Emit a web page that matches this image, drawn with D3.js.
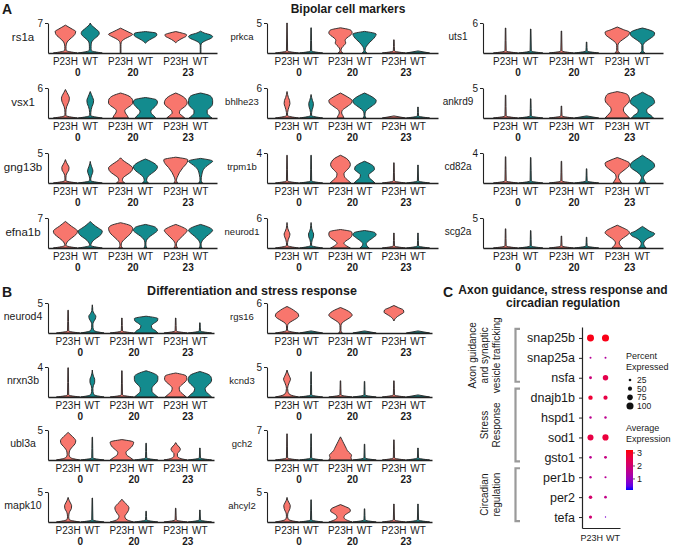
<!DOCTYPE html>
<html>
<head>
<meta charset="utf-8">
<script src="https://cdn.jsdelivr.net/npm/d3@7"></script>
<style>
  body { margin: 0; background: #fff; }
  text { font-family: "Liberation Sans", Arial, sans-serif; fill: #1a1a1a; }
</style>
</head>
<body>
<svg id="fig" width="676" height="549"></svg>
<script>
// ---- data -------------------------------------------------------------
const groups = ["0", "20", "23"];
const conds = ["P23H", "WT"];

// violins per gene, order: P23H 0, WT 0, P23H 20, WT 20, P23H 23, WT 23
// a number  = mostly-zero cells: flat base at 0 plus a thin line up to that value (0 = base only)
// an array  = [low, high, relative widths from low to high, flat zero base?]
const genesA1 = ["rs1a", "vsx1", "gng13b", "efna1b"];
const ticksA1 = [7, 6, 5, 7];
const violinsA1 = [
  [[0.6, 6.5, [.06,.05,.05,.08,.15,.3,.5,.7,.82,.85,.6,.3,0], 1],
   [0.6, 7.0, [.08,.07,.07,.08,.12,.25,.45,.65,.75,.7,.5,.3,.1,0], 1],
   [0, 5.8, [.03,.03,.03,.03,.03,.05,.15,.4,.75,1,.7,.35,0]],
   [2.3, 5.0, [0,.15,.35,.6,.85,.95,.9,0]],
   [2.4, 5.0, [0,.15,.35,.6,.85,.9,.55,0]],
   [0, 5.1, [.03,.03,.03,.03,.03,.05,.2,.5,.85,1,.8,.3,0]]],
  [[0.5, 5.7, [.04,.04,.05,.1,.2,.3,.33,.25,.12,0], 1],
   [0.5, 5.3, [.04,.05,.08,.15,.25,.28,.2,.1,0], 1],
   [0, 5.0, [.65,.55,.4,.35,.55,.85,1,1,.9,.6,0]],
   [0, 4.1, [.85,.7,.5,.45,.6,.8,.95,1,.9,0]],
   [0, 5.0, [.75,.5,.3,.35,.6,.85,.95,.9,.75,.45,0]],
   [0, 5.0, [.95,.7,.55,.55,.75,.95,1,1,.95,.75,0]]],
  [[0.4, 3.9, [.04,.04,.06,.15,.28,.3,.2,.08,0], 1],
   [0.4, 3.6, [.04,.05,.1,.18,.22,.18,.1,.04,0], 1],
   [0, 4.2, [.35,.15,.2,.45,.75,.95,1,.8,.5,.2,0]],
   [0, 4.0, [.25,.1,.15,.35,.65,.9,1,.85,.5,0]],
   [0, 4.3, [.15,.06,.1,.2,.3,.45,.6,.8,.95,1,0]],
   [0, 4.1, [.15,.05,.06,.1,.15,.25,.45,.75,1,0]]],
  [[0.6, 6.2, [.05,.1,.25,.5,.75,.95,1,.8,.5,.25,0], 1],
   [0.6, 6.2, [.05,.1,.25,.5,.78,.95,1,.75,.45,.2,0], 1],
   [0, 5.9, [.15,.05,.1,.3,.55,.8,.95,1,.8,0]],
   [0, 5.5, [.12,.04,.05,.15,.4,.75,1,.85,0]],
   [0, 5.5, [.15,.05,.1,.3,.55,.8,.95,.6,0]],
   [0, 5.5, [.12,.04,.08,.25,.5,.8,1,.7,0]]]
];

const genesA2 = ["prkca", "bhlhe23", "trpm1b", "neurod1"];
const ticksA2 = [5, 6, 4, 6];
const violinsA2 = [
  [5.0, 4.2,
   [0, 4.2, [.2,.05,.1,.3,.45,.4,.55,.85,1,.9,0]],
   [0, 3.6, [.2,.05,.1,.25,.45,.7,.9,1,0]],
   2.2, 0],
  [[0.5, 5.3, [.04,.05,.1,.18,.25,.22,.12,.05,0], 1],
   [0.5, 4.7, [.04,.05,.1,.18,.2,.12,.05,0], 1],
   [0, 5.0, [.3,.2,.1,.15,.4,.7,.95,1,.75,.4,0]],
   [0, 5.0, [.12,.04,.05,.15,.4,.7,.95,1,.8,.45,0]],
   0, 2.2],
  [3.7, 3.7,
   [0, 3.7, [.9,.6,.35,.3,.5,.75,.85,.75,.5,0]],
   [0, 2.9, [.9,.65,.4,.35,.6,.85,.8,.5,0]],
   2.7, 2.4],
  [[0.5, 5.1, [.04,.05,.1,.2,.25,.15,.06,.03,0], 1],
   [0.5, 5.1, [.04,.05,.1,.2,.22,.12,.05,.03,0], 1],
   [0, 3.7, [.85,.5,.3,.45,.75,.95,1,.95,0]],
   [0, 3.5, [.4,.2,.15,.3,.55,.8,1,.9,0]],
   3.0, 3.0]
];

const genesA3 = ["uts1", "ankrd9", "cd82a", "scg2a"];
const ticksA3 = [6, 5, 4, 5];
const violinsA3 = [
  [5.0, 4.8, 4.4, 2.2,
   [0, 5.2, [.2,.05,.05,.05,.15,.4,.7,.95,1,.5,0]],
   [0, 5.0, [.2,.05,.05,.05,.15,.4,.7,.95,1,.7,0]]],
  [3.8, 3.2, 2.0, 0,
   [0, 4.4, [1,.8,.6,.5,.55,.75,.95,1,.95,.8,0]],
   [0, 4.3, [.9,.7,.4,.35,.5,.8,1,.95,.8,.4,0]]],
  [3.5, 3.4, 2.9, 1.9,
   [0, 3.4, [.35,.2,.1,.15,.4,.7,.95,1,.6,0]],
   [0, 3.7, [.3,.15,.08,.2,.45,.8,1,.95,.7,.35,0]]],
  [3.2, 2.9, 2.0, 1.8,
   [0, 3.8, [.45,.25,.15,.25,.5,.8,1,.85,.45,0]],
   [0, 3.6, [.3,.15,.1,.2,.45,.85,1,.6,.3,0]]]
];

const genesB1 = ["neurod4", "nrxn3b", "ubl3a", "mapk10"];
const ticksB1 = [5, 4, 5, 5];
const violinsB1 = [
  [3.8,
   [0.4, 4.7, [.15,.06,.05,.1,.25,.3,.15,.04,.03,0], 1],
   2.5,
   [0, 2.8, [1,.8,.5,.45,.65,.95,1,0]],
   2.5, 1.7],
  [3.9,
   [0.3, 3.6, [.15,.06,.05,.1,.2,.2,.1,.03,0], 1],
   3.5,
   [0, 3.5, [1,.7,.5,.5,.65,.9,1,1,.7,0]],
   [0, 3.2, [.9,.6,.35,.3,.5,.8,.95,.9,0]],
   [0, 3.4, [1,.75,.5,.45,.65,.9,1,.95,.7,0]]],
  [[0.4, 4.6, [.2,.08,.1,.2,.4,.6,.65,.5,.25,0], 1],
   3.8,
   [0, 3.4, [1,.7,.4,.35,.55,.8,.95,1,0]],
   2.8,
   [0.3, 2.9, [.35,.15,.15,.3,.4,.3,.12,0], 1],
   2.0],
  [[0.4, 4.1, [.1,.05,.07,.15,.28,.3,.2,.08,0], 1],
   4.0,
   [0, 3.8, [1,.35,.25,.4,.55,.6,.45,.2,0]],
   1.8, 2.3, 2.0]
];

const genesB2 = ["rgs16", "kcnd3", "gch2", "ahcyl2"];
const ticksB2 = [6, 5, 7, 5];
const violinsB2 = [
  [[0.5, 5.3, [.05,.04,.05,.15,.45,.8,1,.95,.7,.4,0], 1],
   0,
   [0, 5.1, [.15,.04,.04,.05,.15,.45,.8,1,.85,.5,0]],
   0,
   [2.4, 5.5, [0,.1,.3,.6,.85,.8,.4,0]],
   0],
  [[0.4, 4.5, [.25,.08,.05,.1,.2,.3,.2,.08,0], 1],
   4.2, 2.7, 2.6, 2.7, 0],
  [6.1, 6.1,
   [0, 5.4, [1,.9,.95,.8,.6,.5,.4,.3,.2,.1,0]],
   3.7, 4.7, 2.8],
  [[0.4, 4.1, [.15,.05,.06,.15,.25,.28,.18,.06,0], 1],
   3.7,
   [0, 2.9, [1,.5,.3,.35,.6,.85,.8,.45,0]],
   2.2, 3.0, 3.0]
];

// dot plot (panel C)
const cGenes = ["snap25b", "snap25a", "nsfa", "dnajb1b", "hspd1", "sod1", "gsto1", "per1b", "per2", "tefa"];
const pctP23H = [98, 15, 30, 55, 22, 82, 25, 22, 40, 35];
const pctWT   = [100, 15, 72, 52, 22, 85, 30, 18, 25, 5];
const avgP23H = [3.1, 1.5, 1.9, 2.8, 1.6, 2.6, 1.6, 1.6, 2.1, 2.0];
const avgWT   = [3.1, 1.4, 2.5, 2.6, 1.6, 2.7, 1.8, 1.5, 1.7, 0.7];
const cGroups = [
  { lines: ["Axon guidance", "and synaptic", "vesicle trafficking"], from: "snap25b", to: "nsfa" },
  { lines: ["Stress", "Response"], from: "dnajb1b", to: "gsto1" },
  { lines: ["Circadian", "regulation"], from: "per1b", to: "tefa" }
];
const pctLegend = [25, 50, 75, 100];
const avgLegend = [3, 2, 1];

// ---- drawing ----------------------------------------------------------
const svg = d3.select("#fig");
const ink = "#222";
const condColor = { P23H: "#F8766D", WT: "#138B8E" };

function profile(v, tick) {
  const bh = tick * 0.07;
  if (typeof v === "number") {
    if (v === 0) return [{ v: 0, w: 1 }, { v: bh, w: 0 }];
    return [{ v: 0, w: 1 }, { v: bh, w: 0.05 }, { v: v * 0.5, w: 0.035 }, { v: v, w: 0.02 }];
  }
  const [lo, hi, ws, base] = v;
  const pts = ws.map((w, i) => ({ v: lo + (hi - lo) * i / (ws.length - 1), w: w }));
  if (base) pts.unshift({ v: 0, w: 1 });
  return pts;
}

function drawPanel(p) {
  const gx = d3.scaleBand().domain(groups).range(p.band).paddingInner(0.1);
  const cx = d3.scaleBand().domain(conds).range([0, gx.bandwidth()]);
  const hw = cx.bandwidth() / 2 * 0.97;

  p.genes.forEach((gene, r) => {
    const base = p.baselines[r];
    const tick = p.ticks[r];
    const y = d3.scaleLinear().domain([0, tick]).range([base, base - 30]);
    const g = svg.append("g");

    // violins
    p.violins[r].forEach((v, i) => {
      const c = conds[i % 2];
      const xc = gx(groups[Math.floor(i / 2)]) + cx(c) + cx.bandwidth() / 2;
      const area = d3.area().curve(d3.curveMonotoneY)
        .y(d => y(d.v))
        .x0(d => xc - d.w * hw)
        .x1(d => xc + d.w * hw);
      g.append("path")
        .attr("d", area(profile(v, tick).reverse()))
        .attr("fill", condColor[c])
        .attr("stroke", ink)
        .attr("stroke-width", 0.9)
        .attr("stroke-linejoin", "round");
    });

    // y axis with one tick
    const ya = g.append("g").attr("transform", `translate(${p.x0},0)`)
      .call(d3.axisLeft(y).tickValues([tick]).tickFormat(d3.format("d")).tickSize(3).tickSizeOuter(0).tickPadding(2));
    ya.select(".domain").attr("stroke", ink).attr("stroke-width", 1.1);
    ya.selectAll(".tick line").attr("stroke", ink);
    ya.selectAll("text").style("font-size", "10px").attr("fill", "#1a1a1a");

    // x axis line
    const xa = g.append("g").attr("transform", `translate(0,${base})`)
      .call(d3.axisBottom(d3.scaleLinear().range([p.x0, p.x0 + p.W])).ticks(0).tickSizeOuter(0));
    xa.select(".domain").attr("stroke", ink).attr("stroke-width", 1.3);

    // gene label
    g.append("text").attr("x", p.x0 - 25).attr("y", base - 16.5).attr("dy", "0.35em")
      .attr("text-anchor", "middle").style("font-size", p.fs + "px").text(gene);

    // condition / cluster labels
    groups.forEach(grp => {
      conds.forEach(c => {
        g.append("text").attr("x", gx(grp) + cx(c) + cx.bandwidth() / 2).attr("y", base + 12)
          .attr("text-anchor", "middle").style("font-size", "10px").text(c);
      });
      g.append("text").attr("x", gx(grp) + gx.bandwidth() / 2).attr("y", base + 22.5)
        .attr("text-anchor", "middle").style("font-size", "10px").style("font-weight", "bold").text(grp);
    });
  });
}

const aBase = [53, 118, 183, 248];
const bBase = [333, 397, 460, 522];
drawPanel({ x0: 48, W: 169, band: [53, 213], baselines: aBase, genes: genesA1, ticks: ticksA1, violins: violinsA1, fs: 11.5 });
drawPanel({ x0: 267, W: 171, band: [275, 430], baselines: aBase, genes: genesA2, ticks: ticksA2, violins: violinsA2, fs: 9.5 });
drawPanel({ x0: 483, W: 180, band: [493, 655], baselines: aBase, genes: genesA3, ticks: ticksA3, violins: violinsA3, fs: 10 });
drawPanel({ x0: 48, W: 166, band: [56, 212], baselines: bBase, genes: genesB1, ticks: ticksB1, violins: violinsB1, fs: 10.5 });
drawPanel({ x0: 267, W: 165, band: [275, 430], baselines: bBase, genes: genesB2, ticks: ticksB2, violins: violinsB2, fs: 9.5 });

// panel letters and titles
function label(x, y, txt, size, anchor) {
  svg.append("text").attr("x", x).attr("y", y).attr("text-anchor", anchor || "start")
    .style("font-size", size + "px").style("font-weight", "bold").text(txt);
}
label(2, 14, "A", 14);
label(2, 297, "B", 14);
label(443, 297, "C", 14);
label(348, 13, "Bipolar cell markers", 12, "middle");
label(252, 295, "Differentiation and stress response", 12.5, "middle");
label(563, 294, "Axon guidance, stress response and", 12, "middle");
label(563, 307, "circadian regulation", 12, "middle");

// ---- panel C dot plot --------------------------------------------------
const cy = d3.scalePoint().domain(cGenes).range([327, 528]).padding(0.55);
const cxs = d3.scalePoint().domain(conds).range([582, 614]).padding(0.567);
const rScale = d3.scaleLinear().domain([0, 100]).range([0.55, 3.55]);
const colScale = d3.scaleLinear().domain([0.15, 3.23]).range(["#0000ff", "#ff0000"]).interpolate(d3.interpolateLab);

const gc = svg.append("g");
const yAx = gc.append("g").attr("transform", "translate(582,0)")
  .call(d3.axisLeft(cy).tickSize(3).tickSizeOuter(0).tickPadding(4));
yAx.select(".domain").attr("stroke", ink).attr("stroke-width", 1.2);
yAx.selectAll(".tick line").attr("stroke", ink);
yAx.selectAll("text").style("font-size", "12.5px").attr("fill", "#1a1a1a");

const xAx = gc.append("g").attr("transform", "translate(0,528)")
  .call(d3.axisBottom(d3.scaleLinear().range([582, 620])).ticks(0).tickSizeOuter(0));
xAx.select(".domain").attr("stroke", ink).attr("stroke-width", 1.2);
gc.append("text").attr("x", cxs("P23H") + 12.5).attr("y", 541).attr("text-anchor", "end")
  .style("font-size", "9px").text("P23H");
gc.append("text").attr("x", cxs("WT") + 0.5).attr("y", 541).attr("text-anchor", "start")
  .style("font-size", "9px").text("WT");

const dots = [];
cGenes.forEach((gname, i) => {
  dots.push({ gene: gname, cond: "P23H", pct: pctP23H[i], avg: avgP23H[i] });
  dots.push({ gene: gname, cond: "WT", pct: pctWT[i], avg: avgWT[i] });
});
gc.selectAll("circle.dot").data(dots).enter().append("circle")
  .attr("class", "dot")
  .attr("cx", d => cxs(d.cond))
  .attr("cy", d => cy(d.gene))
  .attr("r", d => rScale(d.pct))
  .attr("fill", d => colScale(d.avg));

// group brackets and rotated labels
cGroups.forEach(grp => {
  const top = cy(grp.from) - 9, bot = cy(grp.to) + 4;
  gc.append("path")
    .attr("d", `M520,${top}H515.5V${bot}H520`)
    .attr("fill", "none").attr("stroke", "#9a9a9a").attr("stroke-width", 2.2);
  const mid = (top + bot) / 2;
  const n = grp.lines.length;
  grp.lines.forEach((ln, k) => {
    const x = 496 - (n - 1 - k) * 12;
    gc.append("text").attr("transform", `translate(${x},${mid}) rotate(-90)`)
      .attr("text-anchor", "middle").attr("dy", "0.35em")
      .style("font-size", "10px").text(ln);
  });
});

// legends
const lg = svg.append("g");
lg.append("text").attr("x", 626).attr("y", 359).style("font-size", "9px").text("Percent");
lg.append("text").attr("x", 626).attr("y", 370).style("font-size", "9px").text("Expressed");
const legY = d3.scalePoint().domain(pctLegend).range([380, 406]);
pctLegend.forEach(p => {
  lg.append("circle").attr("cx", 630).attr("cy", legY(p)).attr("r", rScale(p)).attr("fill", "#111");
  lg.append("text").attr("x", 637).attr("y", legY(p)).attr("dy", "0.35em").style("font-size", "8.5px").text(p);
});
lg.append("text").attr("x", 626).attr("y", 431).style("font-size", "9px").text("Average");
lg.append("text").attr("x", 626).attr("y", 442).style("font-size", "9px").text("Expression");

const barY = d3.scaleLinear().domain(colScale.domain()).range([490, 450]);
const grad = svg.append("defs").append("linearGradient").attr("id", "avgGrad")
  .attr("x1", 0).attr("y1", 1).attr("x2", 0).attr("y2", 0);
d3.range(0, 1.0001, 0.1).forEach(t => {
  const val = colScale.domain()[0] + t * (colScale.domain()[1] - colScale.domain()[0]);
  grad.append("stop").attr("offset", t).attr("stop-color", colScale(val));
});
lg.append("rect").attr("x", 626).attr("y", 450).attr("width", 7).attr("height", 40).attr("fill", "url(#avgGrad)");
avgLegend.forEach(v => {
  lg.append("line").attr("x1", 633).attr("x2", 635).attr("y1", barY(v)).attr("y2", barY(v)).attr("stroke", "#333").attr("stroke-width", 0.8);
  lg.append("text").attr("x", 637).attr("y", barY(v)).attr("dy", "0.35em").style("font-size", "9px").text(v);
});
</script>
</body>
</html>
